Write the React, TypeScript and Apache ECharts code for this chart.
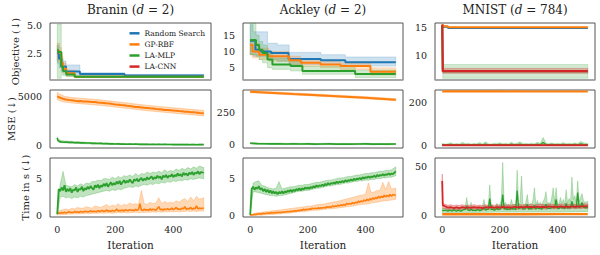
import React, { useEffect, useRef } from "react";
import * as echarts from "echarts";

const FONT = "DejaVu Serif";
const BLUE = "#1f77b4";
const ORANGE = "#ff7f0e";
const GREEN = "#2ca02c";
const RED = "#d62728";

const TITLES = [
  ["Branin (", "d", " = 2)"],
  ["Ackley (", "d", " = 2)"],
  ["MNIST (", "d", " = 784)"],
];
const ROW_LABELS = ["Objective (\u2193)", "MSE (\u2193)", "Time in s (\u2193)"];
const X_LABEL = "Iteration";
const LEGEND_NAMES = ["Random Search", "GP-RBF", "LA-MLP", "LA-CNN"];
const X_TICKS = [0, 200, 400];
const X_TICK_TEXT = ["0", "200", "400"];
const Y_MIN = [0.1, 1.25, 5.5, -300, -25, -10, -0.2, -0.2, -2];
const Y_MAX = [5.2, 18.7, 15.8, 5700, 425, 255, 7.8, 7.8, 58.5];
const Y_STEP = [0.1, 0.25, 0.5, 100, 25, 5, 0.1, 0.1, 0.5];
const Y_TICKS = [[2.5, 5], [5, 10, 15], [10, 15], [0, 5000], [0, 250], [0, 200], [0, 5], [0, 5], [0, 50]];
const Y_TICK_TEXT = [["2.5", "5.0"], ["5", "10", "15"], ["10", "15"], ["0", "5000"], ["0", "250"], ["0", "200"], ["0", "5"], ["0", "5"], ["0", "50"]];

const IT5 = [
  0, 5, 10, 15, 20, 25, 30, 35, 40, 45,
  50, 55, 60, 65, 70, 75, 80, 85, 90, 95,
  100, 105, 110, 115, 120, 125, 130, 135, 140, 145,
  150, 155, 160, 165, 170, 175, 180, 185, 190, 195,
  200, 205, 210, 215, 220, 225, 230, 235, 240, 245,
  250, 255, 260, 265, 270, 275, 280, 285, 290, 295,
  300, 305, 310, 315, 320, 325, 330, 335, 340, 345,
  350, 355, 360, 365, 370, 375, 380, 385, 390, 395,
  400, 405, 410, 415, 420, 425, 430, 435, 440, 445,
  450, 455, 460, 465, 470, 475, 480, 485, 490, 495,
  505,
];
const IT10 = [
  0, 10, 20, 30, 40, 50, 60, 70, 80, 90,
  100, 110, 120, 130, 140, 150, 160, 170, 180, 190,
  200, 210, 220, 230, 240, 250, 260, 270, 280, 290,
  300, 310, 320, 330, 340, 350, 360, 370, 380, 390,
  400, 410, 420, 430, 440, 450, 460, 470, 480, 490,
  505,
];
const RED_T_X = [
  0, 2,
  10, 20, 30, 40, 50, 60, 70, 80, 90, 100,
  110, 120, 130, 140, 150, 160, 170, 180, 190, 200,
  210, 220, 230, 240, 250, 260, 270, 280, 290, 300,
  310, 320, 330, 340, 350, 360, 370, 380, 390, 400,
  410, 420, 430, 440, 450, 460, 470, 480, 490,
  505,
];
const MSE_G_X = [
  0, 2, 5,
  10, 20, 30, 40, 50, 60, 70, 80, 90, 100,
  110, 120, 130, 140, 150, 160, 170, 180, 190, 200,
  210, 220, 230, 240, 250, 260, 270, 280, 290, 300,
  310, 320, 330, 340, 350, 360, 370, 380, 390, 400,
  410, 420, 430, 440, 450, 460, 470, 480, 490,
  505,
];
const IT25 = [0, 25, 50, 75, 100, 125, 150, 175, 200, 225, 250, 275, 300, 325, 350, 375, 400, 425, 450, 475, 505];
const IT50 = [0, 50, 100, 150, 200, 250, 300, 350, 400, 450, 505];
const IT100 = [0, 100, 200, 300, 400, 505];

const BR_OBJ_RS_X = [0, 6, 14, 30, 78, 232, 505];
const BR_OBJ_RS = [2.5, 2.0, 1.3, 0.86, 0.63, 0.5, 0.5];
const BR_OBJ_RS_HI = [3.2, 2.6, 1.8, 1.45, 0.75, 0.6, 0.58];
const BR_OBJ_RS_LO = [1.6, 1.2, 0.8, 0.56, 0.5, 0.42, 0.42];
const BR_OBJ_GP_X = [0, 8, 14, 20, 31, 60, 505];
const BR_OBJ_GP = [2.7, 2.5, 1.6, 1.1, 0.7, 0.38, 0.37];
const BR_OBJ_GP_HI = [3.4, 3.0, 2.2, 1.6, 1.0, 0.45, 0.42];
const BR_OBJ_GP_LO = [1.8, 1.6, 1.0, 0.7, 0.45, 0.32, 0.32];
const BR_OBJ_MLP_X = [0, 3, 14, 20, 31, 60, 505];
const BR_OBJ_MLP = [2.8, 2.6, 1.3, 0.9, 0.6, 0.4, 0.38];
const BR_OBJ_MLP_HI = [5.1, 5.1, 2.0, 1.3, 0.8, 0.48, 0.42];
const BR_OBJ_MLP_LO = [0.25, 0.25, 0.6, 0.5, 0.4, 0.34, 0.33];
const AC_OBJ_RS_X = [0, 18, 37, 72, 133, 245, 330, 505];
const AC_OBJ_RS = [13.3, 10.5, 10.0, 9.5, 7.7, 7.3, 6.7, 6.7];
const AC_OBJ_RS_BX = [0, 10, 60, 94, 135, 245, 330, 505];
const AC_OBJ_RS_HI = [18.2, 16.0, 12.5, 12.0, 9.7, 9.0, 8.3, 8.3];
const AC_OBJ_RS_LO = [9.0, 8.5, 7.5, 7.0, 6.0, 6.0, 5.5, 5.5];
const AC_OBJ_GP_X = [0, 8, 31, 65, 135, 175, 244, 313, 417, 505];
const AC_OBJ_GP = [12.0, 10.0, 9.0, 8.5, 7.3, 6.5, 6.0, 5.5, 3.8, 3.8];
const AC_OBJ_GP_HI = [13.5, 12.5, 11.0, 10.0, 8.5, 7.5, 7.0, 6.5, 5.0, 5.0];
const AC_OBJ_GP_LO = [9.0, 8.0, 7.5, 7.0, 6.0, 5.5, 5.0, 4.5, 2.8, 2.8];
const AC_OBJ_MLP_X = [0, 20, 31, 43, 60, 77, 140, 181, 364, 505];
const AC_OBJ_MLP = [13.5, 12.0, 10.5, 9.5, 7.5, 6.0, 5.5, 4.0, 3.1, 3.1];
const AC_OBJ_MLP_HI = [18.6, 15.0, 13.0, 12.0, 10.0, 8.0, 7.0, 5.5, 4.3, 4.3];
const AC_OBJ_MLP_LO = [9.0, 8.5, 7.5, 6.5, 5.0, 4.5, 4.0, 3.0, 2.0, 2.0];
const MN_OBJ_RS_X = [0, 3, 20, 505];
const MN_OBJ_RS = [15.4, 15.1, 14.88, 14.85];
const MN_OBJ_RS_HI = [15.5, 15.2, 14.95, 14.93];
const MN_OBJ_RS_LO = [15.3, 15.0, 14.8, 14.77];
const MN_OBJ_GP_X = [0, 3, 20, 505];
const MN_OBJ_GP = [15.5, 15.2, 15.05, 14.98];
const MN_OBJ_GP_HI = [15.56, 15.26, 15.11, 15.04];
const MN_OBJ_GP_LO = [15.44, 15.14, 14.99, 14.92];
const MN_OBJ_MLP_X = [0, 2, 505];
const MN_OBJ_MLP = [15.3, 7.1, 7.1];
const MN_OBJ_MLP_HI = [15.5, 8.3, 8.3];
const MN_OBJ_MLP_LO = [15.1, 5.8, 5.8];
const MN_OBJ_CNN_X = [0, 2, 505];
const MN_OBJ_CNN = [15.5, 7.1, 7.1];
const MN_OBJ_CNN_HI = [15.6, 7.6, 7.6];
const MN_OBJ_CNN_LO = [15.4, 6.7, 6.7];

const BR_MSE_GP = [
  5050, 4900, 4790, 4720, 4660, 4650, 4600, 4540, 4550, 4520,
  4500, 4480, 4450, 4460, 4400, 4380, 4350, 4320, 4310, 4250,
  4210, 4180, 4150, 4130, 4070, 4040, 4000, 3950, 3930, 3900,
  3860, 3830, 3800, 3790, 3740, 3710, 3680, 3630, 3620, 3600,
  3570, 3550, 3520, 3510, 3460, 3440, 3410, 3400, 3360, 3330,
  3300,
];
const BR_MSE_GP_BX = [0, 10, 25, 50, 100, 150, 200, 250, 300, 350, 400, 450, 505];
const BR_MSE_GP_HI = [5450, 5250, 5050, 4930, 4800, 4680, 4500, 4330, 4150, 4000, 3870, 3730, 3600];
const BR_MSE_GP_LO = [4700, 4550, 4450, 4350, 4230, 4100, 3930, 3760, 3580, 3440, 3300, 3170, 3020];
const BR_MSE_MLP = [
  750, 500, 420,
  330, 300, 320, 280, 290, 250, 270, 230, 240, 210,
  215, 180, 195, 160, 175, 140, 160, 130, 140, 115,
  130, 105, 115, 95, 108, 85, 100, 80, 90, 75,
  85, 68, 80, 62, 75, 58, 70, 56, 66, 52,
  62, 48, 58, 47, 55, 44, 52, 43, 50,
  44,
];
const BR_MSE_MLP_BX = [0, 5, 25, 50, 100, 200, 300, 400, 505];
const BR_MSE_MLP_HI = [800, 550, 430, 380, 290, 190, 140, 115, 100];
const BR_MSE_MLP_LO = [550, 300, 230, 200, 130, 60, 30, 20, 10];
const AC_MSE_GP = [412, 406, 400, 394, 389, 383, 377, 371, 365, 358, 350];
const AC_MSE_GP_HI = [420, 414, 408, 402, 397, 391, 385, 379, 373, 366, 358];
const AC_MSE_GP_LO = [404, 398, 392, 386, 381, 375, 369, 363, 357, 350, 342];
const AC_MSE_MLP = [12, 9, 8, 7, 8, 6, 7, 6, 7, 5, 6, 7, 5, 6, 5, 6, 7, 5, 6, 5, 6];
const AC_MSE_MLP_HI = [18, 14, 13, 12, 13, 11, 12, 11, 12, 10, 11, 12, 10, 11, 10, 11, 12, 10, 11, 10, 11];
const AC_MSE_MLP_LO = [6, 4, 3, 2, 3, 1, 2, 1, 2, 0, 1, 2, 0, 1, 0, 1, 2, 0, 1, 0, 1];
const MN_MSE_GP = [248.5, 248.3, 248.3, 248.2, 248.2, 248.1];
const MN_MSE_CNN = [3, 3, 3.1, 3, 3.1, 3];
const MN_MSE_CNN_HI = [5, 5, 5, 5, 5, 5];
const MN_MSE_CNN_LO = [1.5, 1.5, 1.5, 1.5, 1.5, 1.5];
const MN_MSE_MLP = [
  5, 4, 5, 7, 4, 5, 4, 7, 5, 6,
  4, 6, 5, 7, 4, 8, 5, 4, 6, 5,
  7, 5, 6, 4, 8, 5, 6, 8, 5, 6,
  5, 6, 5, 8, 5, 15, 6, 5, 7, 5,
  6, 5, 7, 5, 6, 5, 7, 5, 9, 7,
  5,
];
const MN_MSE_MLP_HI = [
  10, 8, 9, 14, 8, 10, 8, 16, 9, 12,
  8, 11, 9, 15, 8, 18, 9, 8, 12, 9,
  14, 9, 12, 8, 16, 9, 12, 18, 9, 11,
  9, 12, 9, 16, 10, 38, 12, 9, 13, 9,
  12, 9, 15, 9, 12, 9, 13, 9, 20, 14,
  10,
];
const MN_MSE_MLP_LO_X = [0, 505];
const MN_MSE_MLP_LO = [1.5, 1.5];

const BR_T_MLP = [
  0.2, 3.6, 3.3, 3.8, 3.4, 4.1, 3.2, 3.6, 3.3, 3.7,
  3.1, 3.5, 3.4, 3.8, 3.2, 3.6, 3.5, 3.9, 3.3, 3.7,
  3.5, 3.9, 3.6, 4.0, 3.7, 3.5, 4.1, 3.8, 4.2, 3.7,
  4.1, 3.9, 4.3, 4.0, 4.4, 3.9, 4.2, 4.5, 4.1, 4.4,
  4.2, 4.6, 4.3, 4.7, 4.2, 4.5, 4.8, 4.4, 4.7, 4.5,
  4.9, 4.6, 4.4, 4.9, 4.7, 5.0, 4.6, 4.9, 5.1, 4.7,
  5.0, 4.8, 5.2, 4.9, 5.1, 5.3, 4.9, 5.2, 5.0, 5.4,
  5.1, 5.3, 4.9, 5.4, 5.2, 5.5, 5.1, 5.4, 5.3, 5.6,
  5.2, 5.5, 5.3, 5.7, 5.4, 5.6, 5.3, 5.8, 5.5, 5.7,
  5.4, 5.8, 5.6, 5.9, 5.5, 5.8, 5.7, 6.0, 5.6, 5.9,
  5.8,
];
const BR_T_MLP_HI = [
  0.3, 4.2, 6.0, 4.1, 4.0, 3.9, 4.2, 4.0, 4.3, 4.1,
  4.4, 4.3, 4.6, 4.6, 4.8, 4.7, 5.0, 5.0, 4.9, 5.2,
  5.0, 5.3, 5.1, 5.4, 5.3, 5.5, 5.3, 5.7, 5.4, 5.7,
  5.6, 5.9, 5.7, 5.9, 5.8, 6.0, 5.8, 6.2, 5.9, 6.1,
  6.0, 6.3, 6.1, 6.4, 6.2, 6.5, 6.3, 6.6, 6.4, 6.7,
  6.5,
];
const BR_T_MLP_LO = [
  0.1, 2.5, 2.6, 2.4, 2.5, 2.3, 2.5, 2.4, 2.6, 2.5,
  2.7, 2.8, 2.9, 3.0, 3.1, 3.2, 3.3, 3.4, 3.3, 3.5,
  3.4, 3.6, 3.5, 3.7, 3.8, 3.9, 3.8, 4.0, 3.9, 4.1,
  4.2, 4.1, 4.3, 4.2, 4.4, 4.3, 4.5, 4.4, 4.6, 4.5,
  4.7, 4.6, 4.8, 4.7, 4.9, 4.8, 5.0, 4.9, 5.0, 5.1,
  5.0,
];
const BR_T_GP = [
  0.3, 0.35, 0.3, 0.4, 0.35, 0.45, 0.35, 0.4, 0.5, 0.4,
  0.45, 0.4, 0.55, 0.45, 0.5, 0.4, 0.55, 0.5, 0.45, 0.6,
  0.5, 0.55, 0.5, 0.65, 0.5, 0.6, 0.55, 0.5, 0.65, 0.55,
  0.6, 0.7, 0.55, 0.6, 0.75, 0.6, 0.65, 0.55, 0.7, 0.6,
  0.65, 0.9, 0.6, 0.7, 0.65, 0.75, 0.6, 0.8, 0.7, 0.65,
  0.8, 0.7, 0.75, 0.65, 0.85, 0.7, 0.8, 1.6, 0.75, 0.7,
  0.85, 0.75, 0.8, 0.7, 0.9, 0.75, 0.85, 0.8, 0.7, 0.95,
  1.2, 0.8, 0.85, 0.75, 0.9, 0.8, 0.95, 0.8, 0.85, 1.0,
  0.8, 0.9, 1.1, 0.85, 0.9, 0.8, 1.0, 0.9, 1.2, 0.85,
  0.95, 0.9, 1.1, 0.85, 1.0, 0.9, 1.3, 0.9, 1.0, 0.95,
  1.0,
];
const BR_T_GP_HI = [
  0.5, 0.7, 0.8, 0.9, 0.8, 1.0, 0.9, 1.1, 1.0, 1.0,
  1.2, 1.1, 1.0, 1.3, 1.2, 1.1, 1.3, 1.5, 1.2, 1.4,
  1.3, 1.6, 1.3, 1.5, 1.4, 1.7, 1.5, 1.6, 1.5, 3.4,
  1.6, 1.5, 1.8, 1.6, 1.7, 2.4, 1.6, 1.9, 1.7, 1.8,
  1.7, 2.0, 1.8, 2.1, 2.3, 1.9, 2.5, 2.0, 2.6, 2.2,
  2.4,
];
const BR_T_GP_LO = [
  0.1, 0.1, 0.15, 0.15, 0.2, 0.2, 0.25, 0.2, 0.25, 0.25,
  0.3, 0.25, 0.3, 0.3, 0.3, 0.35, 0.3, 0.35, 0.35, 0.3,
  0.35, 0.4, 0.35, 0.4, 0.35, 0.4, 0.4, 0.45, 0.4, 0.45,
  0.4, 0.45, 0.45, 0.5, 0.45, 0.5, 0.45, 0.5, 0.5, 0.55,
  0.5, 0.55, 0.5, 0.55, 0.55, 0.6, 0.55, 0.6, 0.55, 0.6,
  0.6,
];
const AC_T_MLP = [
  0.1, 3.6, 3.9, 3.5, 3.8, 3.6, 4.0, 3.5, 3.7, 3.3,
  3.6, 3.2, 3.5, 3.1, 3.4, 3.0, 3.3, 3.0, 3.2, 2.9,
  3.2, 3.0, 3.3, 3.0, 3.3, 3.1, 3.4, 3.2, 3.5, 3.2,
  3.5, 3.3, 3.6, 3.4, 3.7, 3.4, 3.7, 3.5, 3.8, 3.6,
  3.8, 3.6, 3.9, 3.7, 4.0, 3.8, 4.1, 3.9, 4.1, 4.0,
  4.2, 4.0, 4.3, 4.1, 4.4, 4.2, 4.4, 4.3, 4.5, 4.3,
  4.6, 4.4, 4.6, 4.5, 4.7, 4.5, 4.8, 4.6, 4.8, 4.7,
  4.9, 4.7, 5.0, 4.8, 5.0, 4.9, 5.1, 4.9, 5.2, 5.0,
  5.2, 5.1, 5.3, 5.1, 5.3, 5.2, 5.4, 5.2, 5.5, 5.3,
  5.5, 5.4, 5.6, 5.4, 5.6, 5.5, 5.7, 5.5, 5.7, 5.6,
  6.0,
];
const AC_T_MLP_HI = [
  0.2, 4.4, 4.6, 4.7, 4.1, 4.0, 3.8, 3.7, 3.6, 3.7,
  4.6, 3.6, 3.7, 3.8, 3.9, 3.9, 4.0, 4.1, 4.1, 4.2,
  4.2, 4.3, 4.4, 4.5, 4.5, 4.6, 4.7, 4.8, 4.8, 4.9,
  5.0, 5.1, 5.1, 5.2, 5.3, 5.3, 5.4, 5.5, 5.5, 5.6,
  5.7, 5.7, 5.8, 5.8, 5.9, 6.0, 6.0, 6.1, 6.1, 6.2,
  6.6,
];
const AC_T_MLP_LO = [
  0.0, 3.2, 3.2, 3.1, 3.0, 2.9, 2.8, 2.7, 2.7, 2.6,
  2.7, 2.7, 2.8, 2.9, 3.0, 3.1, 3.2, 3.3, 3.3, 3.4,
  3.4, 3.5, 3.6, 3.7, 3.7, 3.8, 3.9, 4.0, 4.0, 4.1,
  4.2, 4.2, 4.3, 4.4, 4.4, 4.5, 4.6, 4.6, 4.7, 4.7,
  4.8, 4.8, 4.9, 4.9, 5.0, 5.0, 5.1, 5.1, 5.2, 5.2,
  5.4,
];
const AC_T_GP = [
  0.05, 0.1, 0.1, 0.15, 0.15, 0.2, 0.2, 0.25, 0.2, 0.3,
  0.25, 0.3, 0.3, 0.35, 0.3, 0.4, 0.35, 0.4, 0.35, 0.45,
  0.4, 0.45, 0.4, 0.5, 0.45, 0.5, 0.55, 0.5, 0.6, 0.55,
  0.6, 0.65, 0.6, 0.7, 0.65, 0.75, 0.7, 0.85, 0.75, 0.85,
  0.8, 0.9, 0.85, 1.0, 0.9, 1.0, 0.9, 1.05, 0.95, 1.05,
  1.0, 1.1, 1.0, 1.2, 1.1, 1.2, 1.1, 1.3, 1.2, 1.3,
  1.25, 1.4, 1.3, 1.45, 1.35, 1.5, 1.4, 1.65, 1.5, 1.65,
  1.55, 1.75, 1.6, 1.8, 1.7, 1.95, 1.8, 2.0, 1.85, 2.1,
  1.95, 2.2, 2.0, 2.3, 2.1, 2.4, 2.2, 2.45, 2.3, 2.6,
  2.4, 2.6, 2.45, 2.75, 2.5, 2.75, 2.55, 2.85, 2.6, 2.85,
  2.7,
];
const AC_T_GP_HI = [
  0.1, 0.25, 0.35, 0.4, 0.45, 0.5, 0.55, 0.6, 0.65, 0.7,
  0.75, 0.8, 0.85, 0.9, 0.95, 1.0, 1.05, 1.1, 1.15, 1.2,
  1.25, 1.3, 1.35, 1.45, 1.5, 1.55, 1.6, 1.7, 1.75, 1.85,
  1.9, 2.0, 2.1, 2.2, 2.3, 2.4, 2.5, 2.6, 2.7, 2.8,
  2.9, 4.4, 3.1, 3.2, 3.4, 3.4, 4.5, 3.5, 4.6, 3.6,
  3.7,
];
const AC_T_GP_LO = [
  0.0, 0.0, 0.0, 0.05, 0.05, 0.1, 0.1, 0.15, 0.15, 0.2,
  0.2, 0.25, 0.3, 0.3, 0.35, 0.4, 0.45, 0.5, 0.5, 0.55,
  0.6, 0.65, 0.7, 0.7, 0.75, 0.8, 0.85, 0.9, 0.9, 0.95,
  1.0, 1.05, 1.1, 1.15, 1.2, 1.25, 1.3, 1.4, 1.45, 1.5,
  1.55, 1.6, 1.7, 1.75, 1.8, 1.9, 1.95, 2.0, 2.05, 2.1,
  2.2,
];
const MN_T_GP = [0.8, 0.8, 0.9, 0.8, 0.9, 0.9];
const MN_T_MLP = [
  5, 4.5, 5, 4.5, 4, 5, 4.5, 4, 5.5, 4.5,
  4, 5, 4.5, 4, 5, 5.5, 6, 9, 5, 4.5,
  6, 4.5, 5, 4.5, 5, 5.5, 4.5, 5, 6, 8,
  5, 5.5, 6, 17, 5.5, 6, 5, 5.5, 7, 5.5,
  6, 8, 21, 6, 7, 5.5, 6.5, 5.5, 8, 6,
  6.5, 5.5, 25, 6.5, 7, 9, 6.5, 6, 7, 11,
  6, 7, 6, 8, 10, 6, 8, 6.5, 7, 6,
  7.5, 8, 11, 6.5, 7, 6.5, 9, 8, 7, 16,
  7, 6.5, 9, 7, 8, 6.5, 12, 7, 8, 7,
  14, 8, 9, 7, 23, 7.5, 9, 13, 8, 7.5,
  8,
];
const MN_T_MLP_HI = [
  7, 6.5, 7, 6.5, 6, 7, 6.5, 6, 7.5, 6.5,
  6, 7, 6.5, 6, 7, 8, 9, 18, 8, 6.5,
  13, 7, 8, 6.5, 8, 9, 7, 7, 10, 16,
  8, 9, 10, 31, 9, 10, 8, 9, 12, 8,
  11, 15, 54, 10, 13, 9, 11, 9, 16, 10,
  11, 9, 46, 11, 13, 40, 12, 10, 13, 21,
  10, 12, 11, 16, 28, 10, 15, 11, 13, 10,
  14, 17, 24, 11, 13, 11, 18, 28, 13, 28,
  12, 11, 18, 12, 16, 11, 26, 12, 17, 13,
  39, 16, 20, 13, 35, 14, 18, 22, 15, 13,
  14,
];
const MN_T_MLP_LO = [2.5, 2.5, 3, 3, 3, 3.5];
const MN_T_CNN = [
  35, 10,
  9, 7.5, 8, 7, 7.8, 7.2, 8.1, 7.4, 7.9, 7.3,
  8.2, 7.5, 7.8, 7.2, 8.0, 7.6, 8.3, 7.4, 8.1, 7.7,
  8.4, 7.8, 8.2, 7.6, 8.5, 7.9, 8.3, 7.8, 8.6, 8.0,
  8.4, 7.9, 8.7, 8.2, 8.5, 8.0, 8.8, 8.3, 8.6, 8.1,
  8.9, 8.4, 8.7, 8.3, 9.0, 8.5, 8.9, 8.6, 9.1,
  8.8,
];
const MN_T_CNN_HI = [
  42, 12,
  11, 10.0, 10.5, 9.5, 10.2, 9.8, 10.6, 9.7, 10.3, 9.6,
  10.7, 9.9, 10.2, 9.6, 10.5, 10.0, 10.8, 9.8, 10.6, 10.1,
  10.9, 10.2, 10.7, 10.0, 11.0, 10.4, 10.8, 10.2, 11.1, 10.5,
  10.9, 10.3, 11.2, 10.7, 11.0, 10.5, 11.3, 10.8, 11.1, 10.6,
  11.4, 10.9, 11.2, 10.8, 11.5, 11.0, 11.4, 11.1, 11.6,
  11.3,
];
const MN_T_CNN_LO = [
  28, 7,
  6.5, 5.5, 6.0, 5.2, 5.8, 5.4, 6.1, 5.3, 5.9, 5.2,
  6.2, 5.5, 5.8, 5.1, 6.0, 5.6, 6.3, 5.4, 6.1, 5.7,
  6.4, 5.8, 6.2, 5.6, 6.5, 5.9, 6.3, 5.8, 6.6, 6.0,
  6.4, 5.9, 6.7, 6.2, 6.5, 6.0, 6.8, 6.3, 6.6, 6.1,
  6.9, 6.4, 6.7, 6.3, 7.0, 6.5, 6.9, 6.6, 7.1,
  6.8,
];

const COL_LEFT = [50, 243, 435];
const COL_W = [161, 160, 160];
const ROW_TOP = [23, 90, 158];
const ROW_H = [57, 58, 59];
const X_MIN = -25;
const X_MAX = 530;

function rgba(hex: string, a: number) {
  const n = parseInt(hex.slice(1), 16);
  return `rgba(${(n >> 16) & 255},${(n >> 8) & 255},${n & 255},${a})`;
}
function pairs(xs: number[], ys: number[]) {
  const n = Math.min(xs.length, ys.length);
  const out: number[][] = [];
  for (let i = 0; i < n; i++) out.push([xs[i], ys[i]]);
  return out;
}
function stepPts(xs: number[], ys: number[]) {
  const p = pairs(xs, ys);
  const out: number[][] = [];
  for (let i = 0; i < p.length; i++) {
    if (i > 0) out.push([p[i][0], p[i - 1][1]]);
    out.push(p[i]);
  }
  return out;
}
function band(gi: number, color: string, ux: number[], uy: number[], lx: number[], ly: number[], alpha: number, step = false) {
  const up = step ? stepPts(ux, uy) : pairs(ux, uy);
  const lo = step ? stepPts(lx, ly) : pairs(lx, ly);
  return {
    type: "custom",
    xAxisIndex: gi,
    yAxisIndex: gi,
    silent: true,
    data: [[ux[0], uy[0]]],
    renderItem: (params: any, api: any) => {
      if (params.dataIndex !== 0) return null;
      const pts = up.map((p) => api.coord(p)).concat(lo.slice().reverse().map((p) => api.coord(p)));
      return {
        type: "polygon",
        shape: { points: pts },
        style: { fill: rgba(color, alpha), stroke: rgba(color, Math.min(1, alpha * 1.5)), lineWidth: 0.6 },
      };
    },
  };
}
function line(gi: number, name: string, color: string, xs: number[], ys: number[], width: number, step = false) {
  return {
    type: "line",
    name,
    xAxisIndex: gi,
    yAxisIndex: gi,
    data: pairs(xs, ys),
    showSymbol: false,
    symbol: "none",
    step: step ? "end" : false,
    silent: true,
    lineStyle: { color, width },
    itemStyle: { color },
  };
}

function buildOption() {
  const grid: any[] = [];
  const xAxis: any[] = [];
  const yAxis: any[] = [];
  for (let r = 0; r < 3; r++) {
    for (let c = 0; c < 3; c++) {
      const gi = r * 3 + c;
      grid.push({
        left: COL_LEFT[c], top: ROW_TOP[r], width: COL_W[c], height: ROW_H[r],
        show: true, borderColor: "#555", borderWidth: 1, backgroundColor: "transparent",
      });
      xAxis.push({
        type: "value", gridIndex: gi, min: X_MIN, max: X_MAX, interval: 5,
        axisLine: r === 0 ? { show: true, onZero: false, lineStyle: { color: "#a8a8a8", width: 1.6 } } : { show: false },
        axisTick: { show: false }, splitLine: { show: false },
        axisLabel: {
          show: r === 2, margin: 7, fontFamily: FONT, fontSize: 9.5, fontWeight: "normal", color: "#222",
          formatter: (v: number) => { const k = X_TICKS.findIndex((t) => Math.abs(t - v) < 1e-6); return k >= 0 ? X_TICK_TEXT[k] : ""; },
        },
      });
      const ticks = Y_TICKS[gi];
      const texts = Y_TICK_TEXT[gi];
      yAxis.push({
        type: "value", gridIndex: gi, min: Y_MIN[gi], max: Y_MAX[gi], interval: Y_STEP[gi],
        axisLine: { show: false }, axisTick: { show: false }, splitLine: { show: false },
        axisLabel: {
          margin: 8, fontFamily: FONT, fontSize: 9.5, fontWeight: "normal", color: "#222",
          formatter: (v: number) => { const k = ticks.findIndex((t) => Math.abs(t - v) < 1e-6 * Math.max(1, Math.abs(t))); return k >= 0 ? texts[k] : ""; },
        },
      });
    }
  }

  const A = 0.22;
  const series: any[] = [
    band(0, BLUE, BR_OBJ_RS_X, BR_OBJ_RS_HI, BR_OBJ_RS_X, BR_OBJ_RS_LO, A, true),
    line(0, LEGEND_NAMES[0], BLUE, BR_OBJ_RS_X, BR_OBJ_RS, 2, true),
    band(0, ORANGE, BR_OBJ_GP_X, BR_OBJ_GP_HI, BR_OBJ_GP_X, BR_OBJ_GP_LO, A, true),
    line(0, LEGEND_NAMES[1], ORANGE, BR_OBJ_GP_X, BR_OBJ_GP, 2, true),
    band(0, GREEN, BR_OBJ_MLP_X, BR_OBJ_MLP_HI, BR_OBJ_MLP_X, BR_OBJ_MLP_LO, A, true),
    line(0, LEGEND_NAMES[2], GREEN, BR_OBJ_MLP_X, BR_OBJ_MLP, 2, true),
    band(1, BLUE, AC_OBJ_RS_BX, AC_OBJ_RS_HI, AC_OBJ_RS_BX, AC_OBJ_RS_LO, A, true),
    line(1, LEGEND_NAMES[0], BLUE, AC_OBJ_RS_X, AC_OBJ_RS, 2, true),
    band(1, ORANGE, AC_OBJ_GP_X, AC_OBJ_GP_HI, AC_OBJ_GP_X, AC_OBJ_GP_LO, A, true),
    line(1, LEGEND_NAMES[1], ORANGE, AC_OBJ_GP_X, AC_OBJ_GP, 2, true),
    band(1, GREEN, AC_OBJ_MLP_X, AC_OBJ_MLP_HI, AC_OBJ_MLP_X, AC_OBJ_MLP_LO, A, true),
    line(1, LEGEND_NAMES[2], GREEN, AC_OBJ_MLP_X, AC_OBJ_MLP, 2, true),
    band(2, BLUE, MN_OBJ_RS_X, MN_OBJ_RS_HI, MN_OBJ_RS_X, MN_OBJ_RS_LO, A, true),
    line(2, LEGEND_NAMES[0], BLUE, MN_OBJ_RS_X, MN_OBJ_RS, 2, true),
    band(2, ORANGE, MN_OBJ_GP_X, MN_OBJ_GP_HI, MN_OBJ_GP_X, MN_OBJ_GP_LO, A, true),
    line(2, LEGEND_NAMES[1], ORANGE, MN_OBJ_GP_X, MN_OBJ_GP, 2, true),
    band(2, GREEN, MN_OBJ_MLP_X, MN_OBJ_MLP_HI, MN_OBJ_MLP_X, MN_OBJ_MLP_LO, A, true),
    line(2, LEGEND_NAMES[2], GREEN, MN_OBJ_MLP_X, MN_OBJ_MLP, 2, true),
    band(2, RED, MN_OBJ_CNN_X, MN_OBJ_CNN_HI, MN_OBJ_CNN_X, MN_OBJ_CNN_LO, 0.3, true),
    line(2, LEGEND_NAMES[3], RED, MN_OBJ_CNN_X, MN_OBJ_CNN, 2.2, true),
    band(3, ORANGE, BR_MSE_GP_BX, BR_MSE_GP_HI, BR_MSE_GP_BX, BR_MSE_GP_LO, 0.3),
    line(3, LEGEND_NAMES[1], ORANGE, IT10, BR_MSE_GP, 2),
    band(3, GREEN, BR_MSE_MLP_BX, BR_MSE_MLP_HI, BR_MSE_MLP_BX, BR_MSE_MLP_LO, 0.3),
    line(3, LEGEND_NAMES[2], GREEN, MSE_G_X, BR_MSE_MLP, 1.6),
    band(4, ORANGE, IT50, AC_MSE_GP_HI, IT50, AC_MSE_GP_LO, 0.3),
    line(4, LEGEND_NAMES[1], ORANGE, IT50, AC_MSE_GP, 2),
    band(4, GREEN, IT25, AC_MSE_MLP_HI, IT25, AC_MSE_MLP_LO, 0.3),
    line(4, LEGEND_NAMES[2], GREEN, IT25, AC_MSE_MLP, 1.6),
    line(5, LEGEND_NAMES[1], ORANGE, IT100, MN_MSE_GP, 2.2),
    band(5, GREEN, IT10, MN_MSE_MLP_HI, MN_MSE_MLP_LO_X, MN_MSE_MLP_LO, 0.3),
    line(5, LEGEND_NAMES[2], GREEN, IT10, MN_MSE_MLP, 1.2),
    band(5, RED, IT100, MN_MSE_CNN_HI, IT100, MN_MSE_CNN_LO, 0.35),
    line(5, LEGEND_NAMES[3], RED, IT100, MN_MSE_CNN, 2),
    band(6, ORANGE, IT10, BR_T_GP_HI, IT10, BR_T_GP_LO, 0.3),
    line(6, LEGEND_NAMES[1], ORANGE, IT5, BR_T_GP, 1.6),
    band(6, GREEN, IT10, BR_T_MLP_HI, IT10, BR_T_MLP_LO, 0.3),
    line(6, LEGEND_NAMES[2], GREEN, IT5, BR_T_MLP, 1.8),
    band(7, ORANGE, IT10, AC_T_GP_HI, IT10, AC_T_GP_LO, 0.3),
    line(7, LEGEND_NAMES[1], ORANGE, IT5, AC_T_GP, 1.6),
    band(7, GREEN, IT10, AC_T_MLP_HI, IT10, AC_T_MLP_LO, 0.3),
    line(7, LEGEND_NAMES[2], GREEN, IT5, AC_T_MLP, 1.8),
    line(8, LEGEND_NAMES[1], ORANGE, IT100, MN_T_GP, 2.4),
    band(8, GREEN, IT5, MN_T_MLP_HI, IT100, MN_T_MLP_LO, 0.3),
    line(8, LEGEND_NAMES[2], GREEN, IT5, MN_T_MLP, 1.3),
    band(8, RED, RED_T_X, MN_T_CNN_HI, RED_T_X, MN_T_CNN_LO, 0.35),
    line(8, LEGEND_NAMES[3], RED, RED_T_X, MN_T_CNN, 1.8),
  ];

  const graphic: any[] = [];
  for (let c = 0; c < 3; c++) {
    const cx = COL_LEFT[c] + COL_W[c] / 2;
    graphic.push({
      type: "text", x: cx, y: 10, silent: true,
      style: {
        text: `{n|${TITLES[c][0]}}{i|${TITLES[c][1]}}{n|${TITLES[c][2]}}`,
        align: "center", verticalAlign: "middle", fontWeight: "normal",
        rich: {
          n: { fontFamily: FONT, fontSize: 12, fontWeight: "normal", fill: "#222" },
          i: { fontFamily: FONT, fontSize: 12, fontWeight: "normal", fontStyle: "italic", fill: "#222" },
        },
      },
    });
    graphic.push({
      type: "text", x: cx, y: 245, silent: true,
      style: { text: X_LABEL, fontFamily: FONT, fontSize: 10.5, fontWeight: "normal", fill: "#222", align: "center", verticalAlign: "middle" },
    });
  }
  const rowNameX = [15, 11, 25];
  for (let r = 0; r < 3; r++) {
    graphic.push({
      type: "text", x: rowNameX[r], y: ROW_TOP[r] + ROW_H[r] / 2, rotation: Math.PI / 2, silent: true,
      style: { text: ROW_LABELS[r], fontFamily: FONT, fontSize: 10, fontWeight: "normal", fill: "#222", align: "center", verticalAlign: "middle" },
    });
  }

  return {
    animation: false,
    backgroundColor: "#ffffff",
    textStyle: { fontFamily: FONT, fontWeight: "normal" },
    grid, xAxis, yAxis, series, graphic,
    legend: {
      left: 129.5, top: 28.8, orient: "vertical", padding: 0,
      itemWidth: 10, itemHeight: 2.5, itemGap: 2.1, icon: "rect",
      selectedMode: false,
      data: LEGEND_NAMES,
      textStyle: { fontFamily: FONT, fontSize: 7.5, fontWeight: "normal", color: "#222", lineHeight: 9 },
    },
  };
}

export default function App() {
  const ref = useRef<HTMLDivElement>(null);
  useEffect(() => {
    const chart = echarts.init(ref.current!, null, { renderer: "svg" });
    chart.setOption(buildOption() as any);
    return () => chart.dispose();
  }, []);
  return (
    <div
      ref={ref}
      style={{ position: "fixed", left: 0, top: 0, width: 600, height: 255, background: "#fff" }}
    />
  );
}
